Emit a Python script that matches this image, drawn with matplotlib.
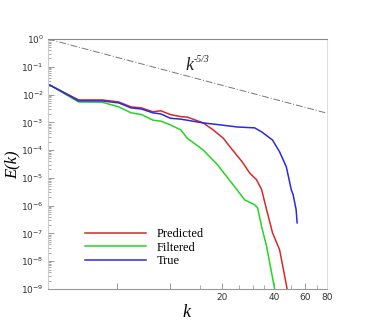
import numpy as np
import matplotlib
matplotlib.use("Agg")
import matplotlib.pyplot as plt
from matplotlib.ticker import LogLocator, NullFormatter, FixedLocator

# spectra
k_true = [2.05, 3.0, 4.1, 5.1, 6.0, 6.9, 8.0, 8.9, 10.1, 11.6, 15.6, 19.5, 24.4, 30.8,
          33.8, 39.0, 42.8, 46.8, 50.0, 51.2, 53.3, 54.0]
E_true = [2.2e-2, 5.9e-3, 5.9e-3, 5.0e-3, 3.3e-3, 3.0e-3, 2.2e-3, 2.0e-3, 1.4e-3, 1.3e-3,
          9.5e-4, 8.1e-4, 6.8e-4, 6.3e-4, 4.5e-4, 2.3e-4, 8.7e-5, 2.5e-5, 3.7e-6, 2.5e-6,
          7.1e-7, 2.4e-7]

k_pred = [2.05, 3.0, 4.1, 5.1, 6.0, 6.9, 8.0, 8.9, 10.1, 11.6, 12.6, 15.6, 17.8, 20.3,
          23.0, 26.1, 28.8, 31.6, 33.8, 35.2, 39.0, 42.8, 44.3, 47.3, 47.8]
E_pred = [2.2e-2, 6.4e-3, 6.4e-3, 5.4e-3, 3.6e-3, 3.3e-3, 2.4e-3, 2.6e-3, 1.9e-3, 1.6e-3,
          1.55e-3, 9.5e-4, 5.3e-4, 2.7e-4, 1.0e-4, 3.8e-5, 1.5e-5, 8.5e-6, 3.7e-6, 1.3e-6,
          1.05e-7, 2.6e-8, 8.7e-9, 1.0e-9, 4e-10]

k_filt = [2.05, 3.0, 4.1, 5.1, 6.0, 6.9, 8.0, 8.9, 10.1, 11.6, 12.6, 15.6, 18.8, 21.3,
          24.4, 27.0, 30.8, 32.0, 33.8, 36.1, 40.0, 40.6]
E_filt = [2.2e-2, 5.4e-3, 5.3e-3, 3.6e-3, 2.2e-3, 1.9e-3, 1.2e-3, 1.1e-3, 8.1e-4, 5.3e-4,
          2.7e-4, 1.0e-4, 3.0e-5, 1.1e-5, 3.7e-6, 1.6e-6, 1.07e-6, 8.3e-7, 1.7e-7, 3.3e-8,
          1.1e-9, 6e-10]

k_ref = np.array([2.0, 80.0])
E_ref = (k_ref / 2.0) ** (-5.0 / 3.0)

serif = 'Liberation Serif'

fig = plt.figure(figsize=(3.66, 3.25), dpi=100)
ax = fig.add_axes([0.131, 0.111, 0.762, 0.769])

ax.plot(k_ref, E_ref, color='#777777', lw=0.7, ls=(0, (7, 2, 1, 2)))
ax.plot(k_pred, E_pred, color='#d42a2a', lw=1.1, label='Predicted')
ax.plot(k_filt, E_filt, color='#22d622', lw=1.1, label='Filtered')
ax.plot(k_true, E_true, color='#2a2ae0', lw=1.1, label='True')

ax.set_xscale('log')
ax.set_yscale('log')
ax.set_xlim(2, 80)
ax.set_ylim(1e-9, 1e0)

ax.xaxis.set_major_locator(FixedLocator([5, 10, 20, 40, 60, 80]))
ax.xaxis.set_minor_locator(FixedLocator([15, 25, 30, 35, 50, 70]))
ax.set_xticklabels(['', '', '20', '40', '60', '80'])
ax.xaxis.set_minor_formatter(NullFormatter())
ax.yaxis.set_major_locator(LogLocator(base=10, numticks=20))
ax.yaxis.set_minor_locator(LogLocator(base=10, subs=np.arange(2, 10), numticks=20))
ax.yaxis.set_minor_formatter(NullFormatter())

ax.tick_params(which='both', direction='in', colors='#888888', labelcolor='#333333',
               labelsize=6.5, pad=3)
ax.tick_params(which='major', length=4, width=0.6)
ax.tick_params(which='minor', length=2.5, width=0.5)
ax.tick_params(axis='x', which='minor', length=3)

ax.spines['top'].set_color('#888888')
ax.spines['bottom'].set_color('#999999')
ax.spines['left'].set_color('#cccccc')
ax.spines['right'].set_color('#dddddd')
for s in ax.spines.values():
    s.set_linewidth(0.8)

# k^-5/3 annotation
ax.text(0.508, 0.892, 'k', transform=ax.transAxes, family=serif, style='italic',
        fontsize=13, ha='center', va='center', color='#222222')
ax.text(0.522, 0.918, '-5/3', transform=ax.transAxes, family=serif, style='italic',
        fontsize=7, ha='left', va='center', color='#222222')

ax.set_xlabel('k', family=serif, style='italic', fontsize=13, va='center', ha='center')
ax.xaxis.set_label_coords(0.495, -0.096)
ax.set_ylabel('E(k)', family=serif, style='italic', fontsize=12, va='center', ha='center')
ax.yaxis.set_label_coords(-0.128, 0.496)

ax.legend(loc='upper left', bbox_to_anchor=(0.115, 0.262), frameon=False,
          prop={'family': serif, 'size': 9}, handlelength=4.9,
          labelspacing=0.1, handletextpad=0.8, borderaxespad=0)

fig.savefig('out.png', dpi=100)
